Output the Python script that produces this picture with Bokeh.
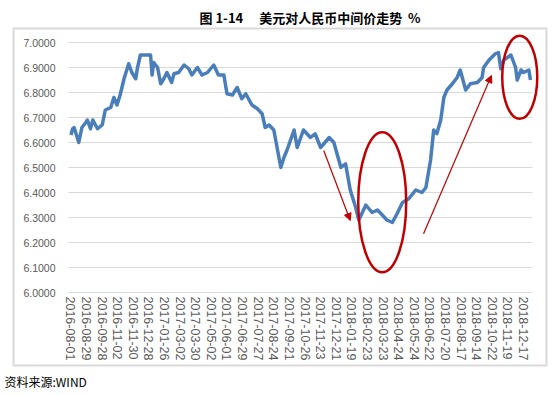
from bokeh.plotting import figure
from bokeh.models import (FixedTicker, NumeralTickFormatter, Title,
                          Arrow, NormalHead, Range1d)
from bokeh.embed import file_html
from bokeh.resources import INLINE

# ---- data (trading-day index, USD/CNY central parity) ----
day_index = [0, 2, 4, 10, 14, 19, 21, 25, 28, 34, 40, 44, 51, 55, 59, 63, 68, 74, 78, 83,
             85, 89, 96, 102, 104, 106, 111, 115, 119, 123, 129, 132, 138, 145, 151, 155,
             162, 168, 175, 183, 189, 196, 200, 207, 213, 219, 224, 232, 239, 245, 249,
             254, 260, 269, 273, 277, 286, 290, 298, 307, 313, 320, 331, 337, 346, 352,
             358, 365, 369, 378, 386, 393, 399, 405, 412, 418, 425, 433, 442, 450, 455,
             461, 465, 469, 474, 478, 482, 489, 495, 499, 506, 512, 521, 527, 529, 536,
             544, 548, 551, 555, 564, 570, 572, 577, 580, 587, 589]
rate = [6.630, 6.655, 6.660, 6.600, 6.660, 6.680, 6.690, 6.655, 6.690, 6.655, 6.670,
        6.730, 6.740, 6.780, 6.750, 6.790, 6.855, 6.915, 6.880, 6.855, 6.895, 6.950,
        6.950, 6.950, 6.870, 6.920, 6.900, 6.835, 6.855, 6.880, 6.840, 6.875, 6.880,
        6.910, 6.895, 6.870, 6.900, 6.870, 6.880, 6.910, 6.870, 6.870, 6.795, 6.790,
        6.820, 6.775, 6.795, 6.750, 6.735, 6.715, 6.660, 6.670, 6.650, 6.500, 6.540,
        6.570, 6.650, 6.580, 6.650, 6.620, 6.635, 6.580, 6.620, 6.600, 6.500, 6.515,
        6.410, 6.340, 6.290, 6.350, 6.320, 6.330, 6.310, 6.290, 6.280, 6.315, 6.360,
        6.375, 6.410, 6.400, 6.420, 6.530, 6.650, 6.635, 6.690, 6.780, 6.810, 6.835,
        6.860, 6.890, 6.810, 6.835, 6.840, 6.860, 6.900, 6.930, 6.955, 6.960, 6.895,
        6.930, 6.950, 6.900, 6.850, 6.890, 6.880, 6.890, 6.850]

tick_labels = ["2016-08-01", "2016-08-29", "2016-09-28", "2016-11-02", "2016-11-30",
               "2016-12-28", "2017-01-26", "2017-03-02", "2017-03-30", "2017-05-02",
               "2017-06-01", "2017-06-29", "2017-07-27", "2017-08-24", "2017-09-21",
               "2017-10-26", "2017-11-23", "2017-12-21", "2018-01-19", "2018-02-23",
               "2018-03-23", "2018-04-24", "2018-05-24", "2018-06-22", "2018-07-20",
               "2018-08-17", "2018-09-14", "2018-10-22", "2018-11-19", "2018-12-17"]
tick_step = 20
tick_days = [i * tick_step for i in range(len(tick_labels))]
y_ticks = [6.0, 6.1, 6.2, 6.3, 6.4, 6.5, 6.6, 6.7, 6.8, 6.9, 7.0]

title_text = "图 1-14\u3000\u00a0美元对人民币中间价走势\u00a0\u00a0%"
source_text = "资料来源:WIND"

RED = "#C00000"
BLUE = "#4A7EBB"
GRID = "#D9D9D9"
LABEL = "#595959"

# the frame is the chart-area box; the plot area sits inside it
X0, X1 = -73.7, 609.6          # frame extent (index units)
Y0, Y1 = 5.708, 7.056          # frame extent (value units)
PX0, PX1 = -3.2, 591.7         # plot-area extent along x
PY0 = 6.0                      # value axis minimum (category axis crosses here)

p = figure(width=556, height=395, output_backend="svg", toolbar_location=None,
           x_range=Range1d(X0, X1), y_range=Range1d(Y0, Y1),
           min_border_left=13, min_border_right=10, min_border_top=28,
           min_border_bottom=30)
p.outline_line_color = GRID
p.outline_line_width = 2
p.background_fill_color = None
p.border_fill_color = None

# title and source
p.title = Title(text=title_text, align="left", offset=186, vertical_align="top",
                standoff=0,
                text_font="Noto Sans CJK SC", text_font_style="bold",
                text_font_size="13px", text_color="black")
p.add_layout(Title(text=source_text, align="left", offset=-9, standoff=11,
                   text_font="Noto Sans CJK SC", text_font_style="normal",
                   text_font_size="12px", text_color="black"), "below")

# axes (drawn at fixed locations inside the chart-area box)
xa = p.xaxis[0]
xa.fixed_location = PY0
xa.ticker = FixedTicker(ticks=tick_days)
xa.major_label_overrides = {d: l for d, l in zip(tick_days, tick_labels)}
xa.major_label_orientation = "vertical"
xa.major_label_text_font = "Liberation Sans"
xa.major_label_text_font_size = "12.5px"
xa.major_label_text_color = LABEL
xa.major_tick_line_color = None
xa.minor_tick_line_color = None
xa.major_tick_out = 0
xa.major_tick_in = 0
xa.major_label_standoff = 4
xa.axis_line_color = GRID
xa.bounds = (PX0, PX1)

ya = p.yaxis[0]
ya.fixed_location = PX0
ya.ticker = FixedTicker(ticks=y_ticks)
ya.formatter = NumeralTickFormatter(format="0.0000")
ya.major_label_text_font = "Liberation Sans"
ya.major_label_text_font_size = "10.5px"
ya.major_label_text_color = LABEL
ya.axis_line_color = None
ya.major_tick_line_color = None
ya.minor_tick_line_color = None
ya.major_tick_out = 0
ya.major_tick_in = 0
ya.major_label_standoff = 13
ya.bounds = (PY0, y_ticks[-1])

p.xgrid.grid_line_color = None
yg = p.ygrid[0]
yg.ticker = FixedTicker(ticks=y_ticks[1:])
if "cross_bounds" in yg.properties():
    yg.cross_bounds = (PX0, PX1)
    yg.grid_line_color = GRID
else:
    yg.grid_line_color = None
    n = len(y_ticks) - 1
    p.segment(x0=[PX0] * n, x1=[PX1] * n, y0=y_ticks[1:], y1=y_ticks[1:],
              line_color=GRID, line_width=1)

# data line
p.line(day_index, rate, line_color=BLUE, line_width=3.5, line_join="round")

# annotations
p.ellipse(x=[399, 575.3], y=[6.361, 6.861], width=[61.5, 44.9], height=[0.56, 0.333],
          fill_color=None, line_color=RED, line_width=2.5)
for xs, ys, xe, ye in [(324, 6.568, 358, 6.288), (452, 6.235, 539, 6.868)]:
    p.add_layout(Arrow(end=NormalHead(size=7, fill_color=RED, line_color=RED),
                       x_start=xs, y_start=ys, x_end=xe, y_end=ye,
                       line_color=RED, line_width=1.2))

open("out.html", "w").write(file_html(p, INLINE))
